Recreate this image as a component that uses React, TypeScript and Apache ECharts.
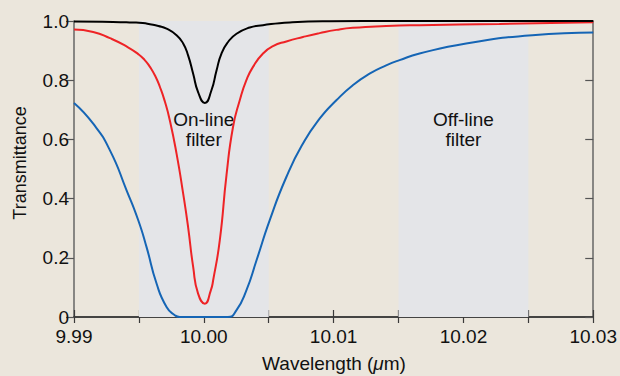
import React, { useEffect, useRef } from "react";
import * as echarts from "echarts";

// Wavelength (µm) / transmittance pairs
const blackCurve: [number, number][] = [
  [9.99, 0.998], [9.993, 0.997], [9.9945, 0.995], [9.9953, 0.993], [9.99585, 0.989], [9.9965, 0.983],
  [9.99713, 0.974], [9.9979, 0.952], [9.99841, 0.924], [9.99879, 0.884], [9.99918, 0.822],
  [9.99956, 0.76], [10.00008, 0.723], [10.00059, 0.766], [10.00098, 0.833], [10.00136, 0.89],
  [10.00187, 0.929], [10.00252, 0.957], [10.00354, 0.978], [10.00456, 0.986], [10.00662, 0.995],
  [10.00969, 0.999], [10.015, 1.0], [10.03, 1.0],
];

const redCurve: [number, number][] = [
  [9.99, 0.971], [9.99148, 0.963], [9.99277, 0.942], [9.99405, 0.914], [9.99495, 0.888],
  [9.99545, 0.868], [9.99585, 0.845], [9.99625, 0.815], [9.99662, 0.777], [9.997, 0.728],
  [9.99738, 0.665], [9.9979, 0.552], [9.99841, 0.417], [9.99879, 0.304], [9.99918, 0.169],
  [9.99956, 0.079], [10.00008, 0.045], [10.00054, 0.09], [10.00072, 0.124], [10.00123, 0.259],
  [10.00175, 0.48], [10.00225, 0.642], [10.00277, 0.732], [10.00328, 0.8], [10.00379, 0.845],
  [10.00456, 0.89], [10.00533, 0.915], [10.00636, 0.931], [10.00764, 0.946], [10.00892, 0.959],
  [10.01021, 0.97], [10.01148, 0.977], [10.01405, 0.983], [10.01662, 0.986], [10.02277, 0.99],
  [10.03, 0.996],
];

const blueCurve: [number, number][] = [
  [9.99, 0.723], [9.99148, 0.653], [9.99277, 0.563], [9.99405, 0.428], [9.99495, 0.327],
  [9.99559, 0.236], [9.99636, 0.113], [9.99713, 0.034], [9.99777, 0.006], [9.99815, 0.0],
  [10.00185, 0.0], [10.00252, 0.023], [10.00328, 0.09], [10.00405, 0.19], [10.00508, 0.327],
  [10.00636, 0.473], [10.00764, 0.586], [10.00892, 0.67], [10.01021, 0.732], [10.01148, 0.783],
  [10.01277, 0.822], [10.01405, 0.85], [10.01508, 0.868], [10.01662, 0.89], [10.02021, 0.924],
  [10.02531, 0.952], [10.03, 0.961],
];

const filterBands: [number, number][] = [
  [9.995, 10.005],
  [10.015, 10.025],
];

const bandLabels = ["On-line\nfilter", "Off-line\nfilter"];

const FONT = "'Liberation Sans', Arial, Helvetica, sans-serif";
const AXIS_COLOR = "#3a3a3a";

export default function App() {
  const ref = useRef<HTMLDivElement>(null);

  useEffect(() => {
    if (!ref.current) return;
    const chart = echarts.init(ref.current, undefined, { renderer: "svg" });

    const lineSeries = (data: [number, number][], color: string) => ({
      type: "line",
      data,
      showSymbol: false,
      smooth: 0.55,
      z: 3,
      lineStyle: { color, width: 2 },
      silent: true,
    });

    chart.setOption({
      animation: false,
      backgroundColor: "#ebe6dc",
      textStyle: { fontFamily: FONT },
      grid: { left: 74, right: 25, top: 21, bottom: 59, containLabel: false },
      xAxis: [
        {
          type: "value",
          position: "bottom",
          min: 9.99,
          max: 10.03,
          interval: 0.005,
          splitLine: { show: false },
          axisLine: { lineStyle: { color: AXIS_COLOR, width: 1.5 } },
          axisTick: { inside: true, length: 7, lineStyle: { color: AXIS_COLOR, width: 1.2 } },
          axisLabel: {
            margin: 10,
            fontSize: 19,
            color: "#111",
            fontFamily: FONT,
            formatter: (v: number) => {
              const k = Math.round(v * 200);
              return k % 2 === 0 ? v.toFixed(2) : "";
            },
          },
        },
        {
          type: "value",
          position: "top",
          min: 9.99,
          max: 10.03,
          interval: 0.005,
          splitLine: { show: false },
          axisLine: { lineStyle: { color: AXIS_COLOR, width: 1.5 } },
          axisTick: { inside: true, length: 6, lineStyle: { color: AXIS_COLOR, width: 1.2 } },
          axisLabel: { show: false },
        },
      ],
      yAxis: [
        {
          type: "value",
          position: "left",
          min: 0,
          max: 1,
          interval: 0.2,
          splitLine: { show: false },
          axisLine: { show: true, lineStyle: { color: "#666", width: 1.5 } },
          axisTick: { show: true, inside: false, length: 8, lineStyle: { color: "#555", width: 1.2 } },
          axisLabel: {
            margin: 5,
            fontSize: 19,
            color: "#111",
            fontFamily: FONT,
            formatter: (v: number) => (v === 0 ? "0" : v.toFixed(1)),
          },
        },
        {
          type: "value",
          position: "right",
          min: 0,
          max: 1,
          interval: 0.2,
          splitLine: { show: false },
          axisLine: { show: true, lineStyle: { color: "#666", width: 1.5 } },
          axisTick: { show: true, inside: true, length: 8, lineStyle: { color: "#555", width: 1.2 } },
          axisLabel: { show: false },
        },
      ],
      series: [
        {
          type: "line",
          data: [],
          z: 1,
          silent: true,
          markArea: {
            silent: true,
            itemStyle: { color: "rgba(0,0,0,0)" },
            label: {
              show: true,
              position: "inside",
              fontSize: 19,
              lineHeight: 20,
              color: "#111",
              fontFamily: FONT,
              formatter: (p: any) => p.name,
            },
            data: filterBands.map((b, i) => [
              { name: bandLabels[i], xAxis: b[0], yAxis: 0.72 },
              { xAxis: b[1], yAxis: 0.55 },
            ]),
          },
        },
        {
          type: "line",
          data: [],
          z: 0,
          silent: true,
          markArea: {
            silent: true,
            itemStyle: { color: "#e4e5e8" },
            label: { show: false },
            data: filterBands.map((b) => [{ xAxis: b[0] }, { xAxis: b[1] }]),
          },
        },
        lineSeries(blueCurve, "#1565b5"),
        lineSeries(redCurve, "#ee2326"),
        lineSeries(blackCurve, "#000000"),
      ],
      graphic: [
        {
          type: "text",
          x: 20,
          y: 163,
          rotation: Math.PI / 2,
          style: {
            text: "Transmittance",
            fontSize: 18,
            fontFamily: FONT,
            fill: "#111",
            textAlign: "center",
            textVerticalAlign: "middle",
          },
        },
        {
          type: "text",
          x: 334,
          y: 363,
          style: {
            text: "{a|Wavelength (}{b|μ}{a|m)}",
            fontSize: 19,
            fontFamily: FONT,
            fill: "#111",
            textAlign: "center",
            textVerticalAlign: "middle",
            rich: {
              a: { fontSize: 19, fontFamily: FONT, fill: "#111" },
              b: { fontSize: 19, fontFamily: FONT, fill: "#111", fontStyle: "italic" },
            },
          },
        },
      ],
    });

    return () => chart.dispose();
  }, []);

  return (
    <div
      ref={ref}
      style={{ position: "fixed", left: 0, top: 0, width: 620, height: 376 }}
    />
  );
}
